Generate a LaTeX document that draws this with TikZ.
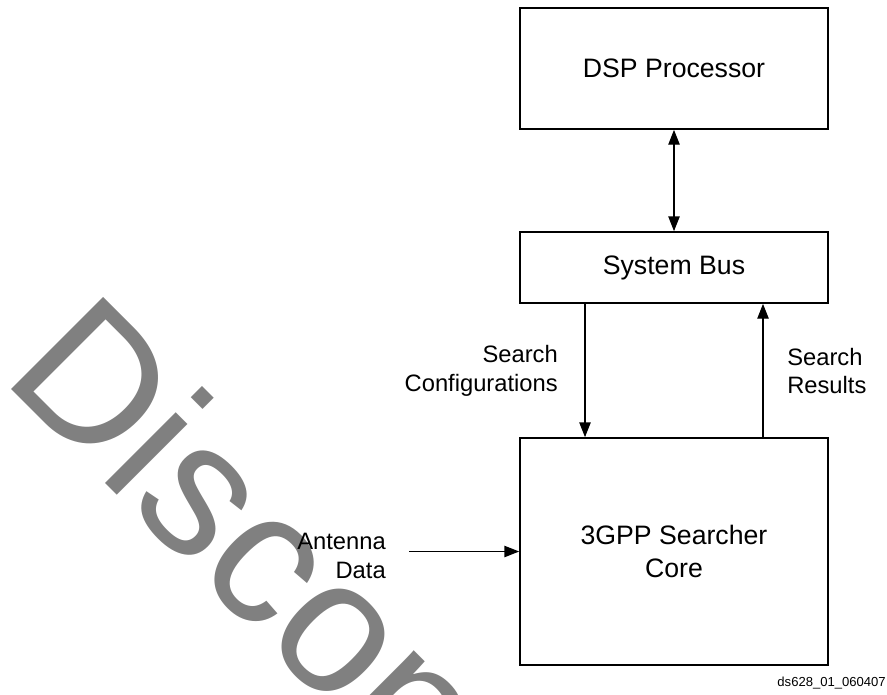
\documentclass[tikz,border=0pt]{standalone}
\usepackage{fontspec}
\setmainfont{Liberation Sans}
\usetikzlibrary{arrows.meta}

\tikzset{
  blockbox/.style={draw, line width=1.3pt, minimum width=231pt, inner sep=0pt,
    font=\fontsize{20}{24}\selectfont, align=center},
  sigline/.style={line width=0.8pt, >={Triangle[length=11pt,width=8.5pt]}},
  edgelbl/.style={inner sep=0pt, font=\fontsize{17.8}{21.5}\selectfont}
}

\begin{document}
\begin{tikzpicture}[x=0.75pt,y=0.75pt,yscale=-1,xscale=1]
\useasboundingbox (0,0) rectangle (887,694);

% Watermark
\begin{scope}
\clip (0,0) rectangle (887,694);
\node [rotate=-45, anchor=base west, inner sep=0pt, text={rgb,255:red,128;green,128;blue,128},
  font=\fontsize{142}{142}\selectfont] (wmark) at (0,378) {Discontinued};
\end{scope}

% Blocks
\node [blockbox, minimum height=90.75pt] (dsp) at (674,68.5) {DSP Processor};
\node [blockbox, minimum height=53.25pt] (bus) at (674,267.5) {System Bus};
\node [blockbox, minimum height=170.25pt, font=\fontsize{20}{24.5}\selectfont] (core) at (674,551.5) {3GPP Searcher\\Core};

% Connectors
\draw [sigline, <->] (dsp.south) -- (bus.north);
\draw [sigline, ->] ([xshift=-66.75pt]bus.south) -- ([xshift=-66.75pt]core.north);
\draw [sigline, ->] ([xshift=66.75pt]core.north) -- ([xshift=66.75pt]bus.south);
\coordinate (antin) at (409,551.5);
\draw [sigline, ->] (antin) -- (core.west);

% Text Node
\node [edgelbl, anchor=east, align=right] (conflbl) at (558,371) {Search\\Configurations};
% Text Node
\node [edgelbl, anchor=west, align=left] (reslbl) at (787,371) {Search\\Results};
% Text Node
\node [edgelbl, anchor=east, align=right] (antlbl) at (386,556) {Antenna\\Data};
% Text Node
\node [anchor=base east, inner sep=0pt, font=\fontsize{9.8}{11}\selectfont] (figid) at (886,686) {ds628\_01\_060407};
\end{tikzpicture}
\end{document}
